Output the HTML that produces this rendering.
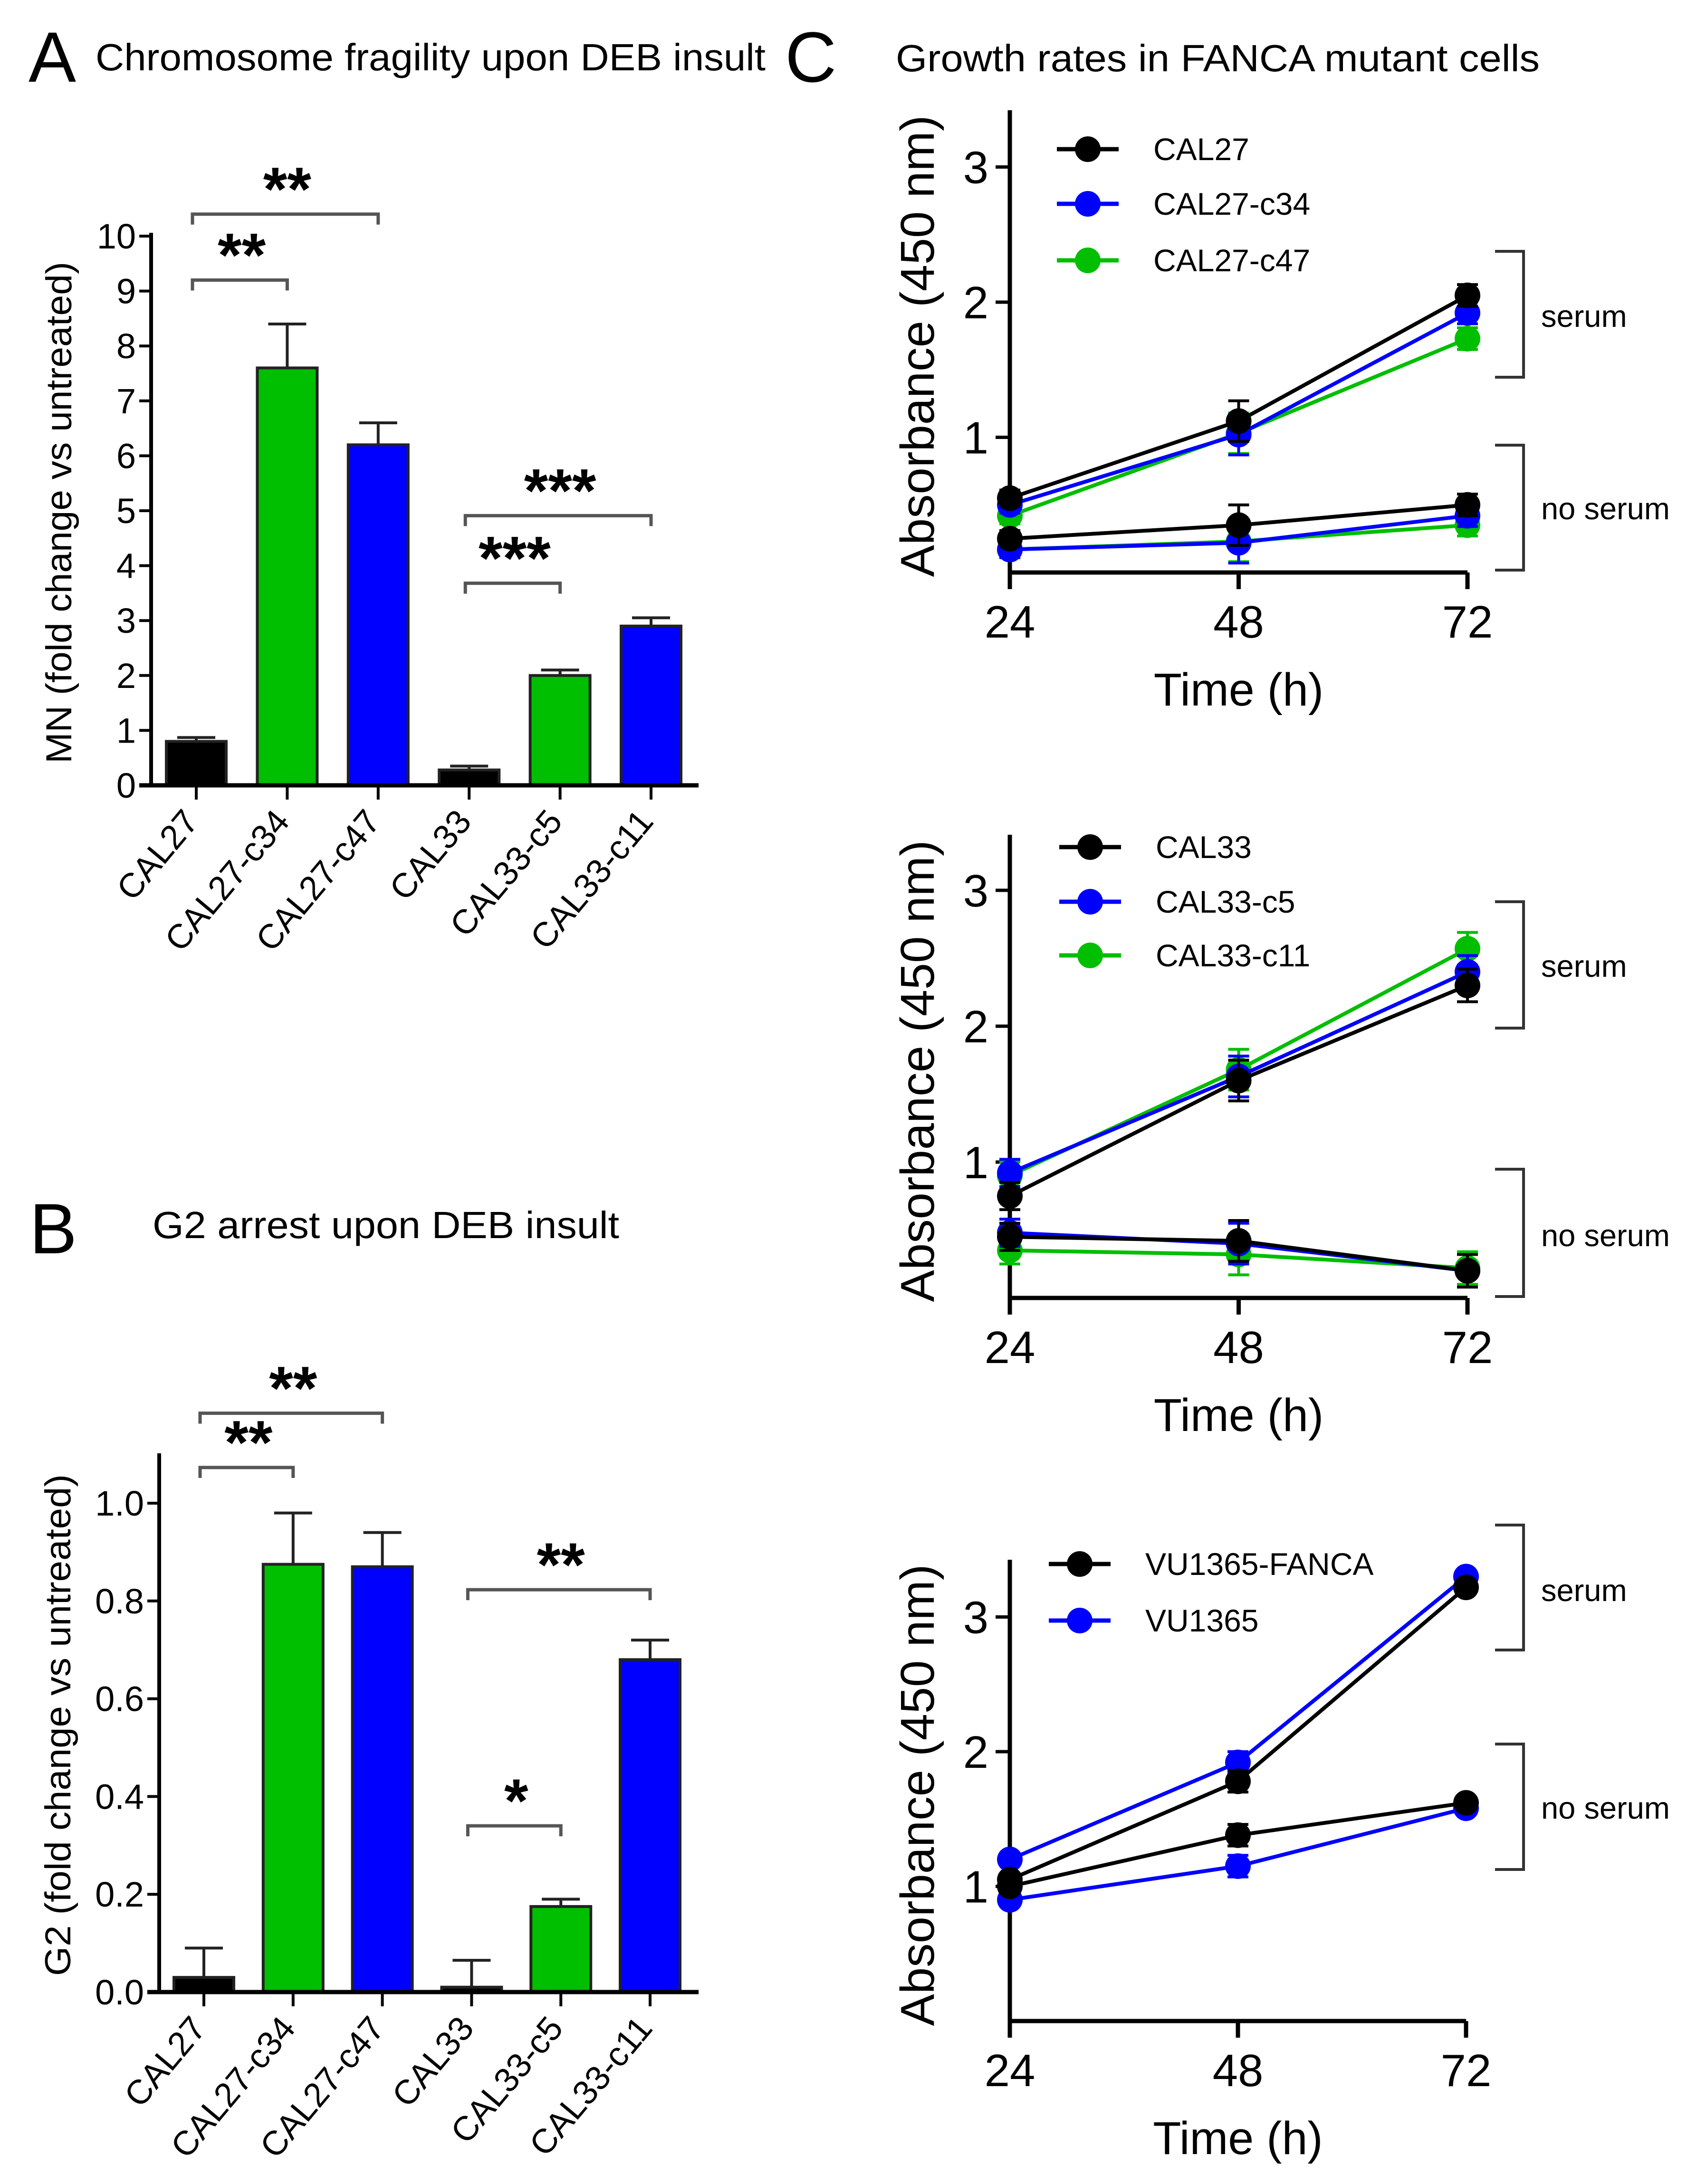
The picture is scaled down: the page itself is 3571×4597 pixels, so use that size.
<!DOCTYPE html>
<html><head><meta charset="utf-8"><style>
html,body{margin:0;padding:0;background:#fff;}
svg{display:block;font-family:"Liberation Sans",Arial,sans-serif;}
</style></head><body>
<svg id="fig" width="3571" height="4597" viewBox="0 0 3571 4597" xmlns="http://www.w3.org/2000/svg">
<rect width="3571" height="4597" fill="#fff"/>
<text x="60" y="172" font-size="150">A</text>
<text x="201" y="148" font-size="80" textLength="1410" lengthAdjust="spacingAndGlyphs">Chromosome fragility upon DEB insult</text>
<text x="1652" y="172" font-size="150">C</text>
<text x="1885" y="150" font-size="80" textLength="1355" lengthAdjust="spacingAndGlyphs">Growth rates in FANCA mutant cells</text>
<text x="62" y="2638" font-size="150">B</text>
<text x="321" y="2606" font-size="80" textLength="982" lengthAdjust="spacingAndGlyphs">G2 arrest upon DEB insult</text>
</svg>
<script>
// ---------- Panel A data ----------
const aCategories = ["CAL27","CAL27-c34","CAL27-c47","CAL33","CAL33-c5","CAL33-c11"];
const aValues = [0.8, 7.6, 6.2, 0.28, 2.0, 2.9];
const aErrors = [0.07, 0.8, 0.4, 0.07, 0.1, 0.15];
const aTicks = [0,1,2,3,4,5,6,7,8,9,10];
const aTickLabels = ["0","1","2","3","4","5","6","7","8","9","10"];
const aSigFrom = [0,0,3,3];
const aSigTo = [1,2,4,5];
const aSigLevel = [9.2,10.4,3.68,4.91];
const aSigText = ["**","**","***","***"];
// ---------- Panel B data ----------
const bCategories = ["CAL27","CAL27-c34","CAL27-c47","CAL33","CAL33-c5","CAL33-c11"];
const bValues = [0.03, 0.875, 0.87, 0.01, 0.175, 0.68];
const bErrors = [0.06, 0.105, 0.07, 0.055, 0.015, 0.04];
const bTicks = [0,0.2,0.4,0.6,0.8,1.0];
const bTickLabels = ["0.0","0.2","0.4","0.6","0.8","1.0"];
const bSigFrom = [0,0,3,3];
const bSigTo = [1,2,4,5];
const bSigLevel = [1.073,1.184,0.34,0.823];
const bSigText = ["**","**","*","**"];
// ---------- Panel C data ----------
const cTimes = [24,48,72];
const cTickLabels = ["24","48","72"];
const cYTicks = [1,2,3];
const c1Names = ["CAL27","CAL27-c34","CAL27-c47"];
const c1Serum0 = [0.55,1.12,2.05];
const c1Serum1 = [0.5,1.02,1.92];
const c1Serum2 = [0.42,1.03,1.73];
const c1NoSerum0 = [0.25,0.35,0.5];
const c1NoSerum1 = [0.17,0.22,0.42];
const c1NoSerum2 = [0.17,0.23,0.35];
const c1Err = [0.06,0.15,0.08];
const c2Names = ["CAL33","CAL33-c5","CAL33-c11"];
const c2Serum0 = [0.75,1.6,2.3];
const c2Serum1 = [0.92,1.63,2.4];
const c2Serum2 = [0.9,1.68,2.57];
const c2NoSerum0 = [0.45,0.42,0.2];
const c2NoSerum1 = [0.48,0.4,0.2];
const c2NoSerum2 = [0.35,0.32,0.22];
const c2Err = [0.1,0.15,0.12];
const c3Names = ["VU1365-FANCA","VU1365"];
const c3Serum0 = [1.05,1.78,3.22];
const c3Serum1 = [1.2,1.92,3.3];
const c3NoSerum0 = [1.0,1.38,1.62];
const c3NoSerum1 = [0.9,1.15,1.58];
const c3Err = [0.04,0.08,0.03];

const NS="http://www.w3.org/2000/svg";
const svg=document.getElementById('fig');
function mk(tag,attrs,parent){const e=document.createElementNS(NS,tag);for(const k in attrs)e.setAttribute(k,attrs[k]);(parent||svg).appendChild(e);return e;}
const COLORS=["#000000","#00BE00","#0000FF"];

function barChart(p,cats,vals,errs,ticks,tickLabels,sf,st,sl,stx,ylabel){
  const g=mk('g',{});
  
  
  const y=v=>p.y0-(v-0)*(p.y0-p.y1)/(p.v1);
  const x=i=>p.x0+i*p.step;
  cats.forEach((c,i)=>{
    const top=y(vals[i]);
    const eb=mk('line',{x1:x(i),x2:x(i),y1:top,y2:y(vals[i]+errs[i]),stroke:'#222','stroke-width':6},g);
    
    
    const cap=mk('line',{x1:x(i)-40,x2:x(i)+40,y1:y(vals[i]+errs[i]),y2:y(vals[i]+errs[i]),stroke:'#222','stroke-width':6},g);
    
    
    const r=mk('rect',{x:x(i)-63,y:top,width:126,height:p.y0-top,fill:COLORS[i%3],stroke:'#222','stroke-width':6},g);
    
    
    const tk=mk('line',{x1:x(i),x2:x(i),y1:p.y0,y2:p.y0+30,stroke:'#000','stroke-width':6},g);
    
    
    const t=mk('text',{x:0,y:0,'font-size':72,'text-anchor':'end',transform:`translate(${x(i)+8},${p.y0+78}) rotate(-50)`},g);
    t.textContent=c;
    
    
  });
  const ax=mk('line',{x1:p.ax,x2:p.ax,y1:p.axTop,y2:p.y0+4,stroke:'#000','stroke-width':8},g);
  
  
  const xa=mk('line',{x1:p.ax-25,x2:p.xEnd,y1:p.y0,y2:p.y0,stroke:'#000','stroke-width':9},g);
  
  
  ticks.forEach((v,i)=>{
    const l=mk('line',{x1:p.ax-25,x2:p.ax,y1:y(v),y2:y(v),stroke:'#000','stroke-width':6},g);
    
    
    const t=mk('text',{x:p.ax-32,y:y(v)+26,'font-size':74,'text-anchor':'end'},g);
    t.textContent=tickLabels[i];
    
    
  });
  const yl=mk('text',{x:0,y:0,'font-size':76,'text-anchor':'middle',transform:`translate(${p.ylx},${p.yly}) rotate(-90)`,textLength:p.ylLen,lengthAdjust:'spacingAndGlyphs'},g);
  yl.textContent=ylabel;
  
  
  sf.forEach((f,k)=>{
    const yy=y(sl[k]);
    const br=mk('path',{d:`M${x(f)-8} ${yy+22} V${yy} H${x(st[k])} V${yy+22}`,fill:'none',stroke:'#555','stroke-width':7},g);
    
    
    const t=mk('text',{x:(x(f)+x(st[k]))/2,y:yy-8,'font-size':130,'font-weight':'bold','text-anchor':'middle'},g);
    t.textContent=stx[k];
    
    
  });
}

barChart({name:'panel-a-chart',x0:413,step:191.4,y0:1653,y1:497,v1:10,ax:318,axTop:490,xEnd:1470,ylx:150,yly:1079,ylLen:1056},
  aCategories,aValues,aErrors,aTicks,aTickLabels,aSigFrom,aSigTo,aSigLevel,aSigText,"MN (fold change vs untreated)");
barChart({name:'panel-b-chart',x0:429,step:187.8,y0:4193,y1:3164,v1:1.0,ax:335,axTop:3059,xEnd:1470,ylx:148,yly:3631,ylLen:1056},
  bCategories,bValues,bErrors,bTicks,bTickLabels,bSigFrom,bSigTo,bSigLevel,bSigText,"G2 (fold  change vs untreated)");

function lineChart(p,names,serum,noserum,err){
  const g=mk('g',{});
  
  
  const x=t=>p.x24+(t-24)*(p.x72-p.x24)/48;
  const y=v=>p.y0-v*p.unit;
  const ya=mk('line',{x1:p.x24,x2:p.x24,y1:p.axTop,y2:p.y0+35,stroke:'#000','stroke-width':9},g);
  
  
  const xa=mk('line',{x1:p.x24,x2:p.x72,y1:p.y0,y2:p.y0,stroke:'#000','stroke-width':9},g);
  
  
  cTimes.forEach((t,i)=>{
    const l=mk('line',{x1:x(t),x2:x(t),y1:p.y0,y2:p.y0+35,stroke:'#000','stroke-width':9},g);
    
    
    const tx=mk('text',{x:x(t),y:p.y0+137,'font-size':96,'text-anchor':'middle'},g);
    tx.textContent=cTickLabels[i];
    
    
  });
  cYTicks.forEach(v=>{
    const l=mk('line',{x1:p.x24-30,x2:p.x24,y1:y(v),y2:y(v),stroke:'#000','stroke-width':7},g);
    
    
    const tx=mk('text',{x:p.x24-45,y:y(v)+34,'font-size':96,'text-anchor':'end'},g);
    tx.textContent=String(v);
    
    
  });
  const xt=mk('text',{x:(p.x24+p.x72)/2,y:p.y0+280,'font-size':97,'text-anchor':'middle'},g);
  xt.textContent='Time (h)';
  
  
  const yt=mk('text',{x:0,y:0,'font-size':100,'text-anchor':'middle',transform:`translate(${p.x24-160},${(p.axTop+p.y0)/2+10}) rotate(-90)`,textLength:972,lengthAdjust:'spacingAndGlyphs'},g);
  yt.textContent='Absorbance (450 nm)';
  
  
  const drawSeries=(vals,col,nm,withErr)=>{
    const pts=vals.map((v,i)=>x(cTimes[i])+','+y(v)).join(' ');
    if(withErr){vals.forEach((v,i)=>{
      const e=mk('path',{d:`M${x(cTimes[i])} ${y(v+err[i])} V${y(v-err[i])} M${x(cTimes[i])-22} ${y(v+err[i])} H${x(cTimes[i])+22} M${x(cTimes[i])-22} ${y(v-err[i])} H${x(cTimes[i])+22}`,stroke:col,'stroke-width':6,fill:'none'},g);
      
      
    });}
    const pl=mk('polyline',{points:pts,fill:'none',stroke:col,'stroke-width':8},g);
    
    
    vals.forEach((v,i)=>{
      const c=mk('circle',{cx:x(cTimes[i]),cy:y(v),r:27,fill:col},g);
      
      
    });
  };
  for(let s=names.length-1;s>=0;s--){
    const col=p.colors[s];
    drawSeries(noserum[s],col,names[s].toLowerCase()+'-no-serum',true);
    drawSeries(serum[s],col,names[s].toLowerCase()+'-serum',true);
  }
  names.forEach((n,s)=>{
    const ly=p.legY[s];
    const l=mk('line',{x1:p.legX,x2:p.legX+130,y1:ly,y2:ly,stroke:p.colors[s],'stroke-width':9},g);
    
    
    const c=mk('circle',{cx:p.legX+65,cy:ly,r:27,fill:p.colors[s]},g);
    
    
    const t=mk('text',{x:p.legTextX,y:ly+23,'font-size':66},g);
    t.textContent=n;
    
    
  });
  p.brackets.forEach(b=>{
    const br=mk('path',{d:`M3146 ${b[0]} H3206 V${b[1]} H3146`,fill:'none',stroke:'#333','stroke-width':6},g);
    
    
    const t=mk('text',{x:3243,y:b[2]+22,'font-size':65},g);
    t.textContent=b[3];
    
    
  });
}
lineChart({name:'panel-c1-chart',x24:2125,x72:3088,y0:1205,unit:284.5,axTop:232,
  colors:["#000000","#0000FF","#00BE00"],legX:2224,legTextX:2427,legY:[314,429,548],
  brackets:[[529,794,666,'serum'],[937,1200,1071,'no serum']]},
  c1Names,[c1Serum0,c1Serum1,c1Serum2],[c1NoSerum0,c1NoSerum1,c1NoSerum2],c1Err);
lineChart({name:'panel-c2-chart',x24:2125,x72:3088,y0:2732,unit:286,axTop:1757,
  colors:["#000000","#0000FF","#00BE00"],legX:2229,legTextX:2432,legY:[1783,1898,2011],
  brackets:[[1898,2164,2034,'serum'],[2461,2729,2601,'no serum']]},
  c2Names,[c2Serum0,c2Serum1,c2Serum2],[c2NoSerum0,c2NoSerum1,c2NoSerum2],c2Err);
lineChart({name:'panel-c3-chart',x24:2125,x72:3085,y0:4254,unit:283.5,axTop:3283,
  colors:["#000000","#0000FF"],legX:2207,legTextX:2410,legY:[3292,3411],
  brackets:[[3210,3473,3348,'serum'],[3671,3935,3806,'no serum']]},
  c3Names,[c3Serum0,c3Serum1],[c3NoSerum0,c3NoSerum1],c3Err);
</script>
</body></html>
